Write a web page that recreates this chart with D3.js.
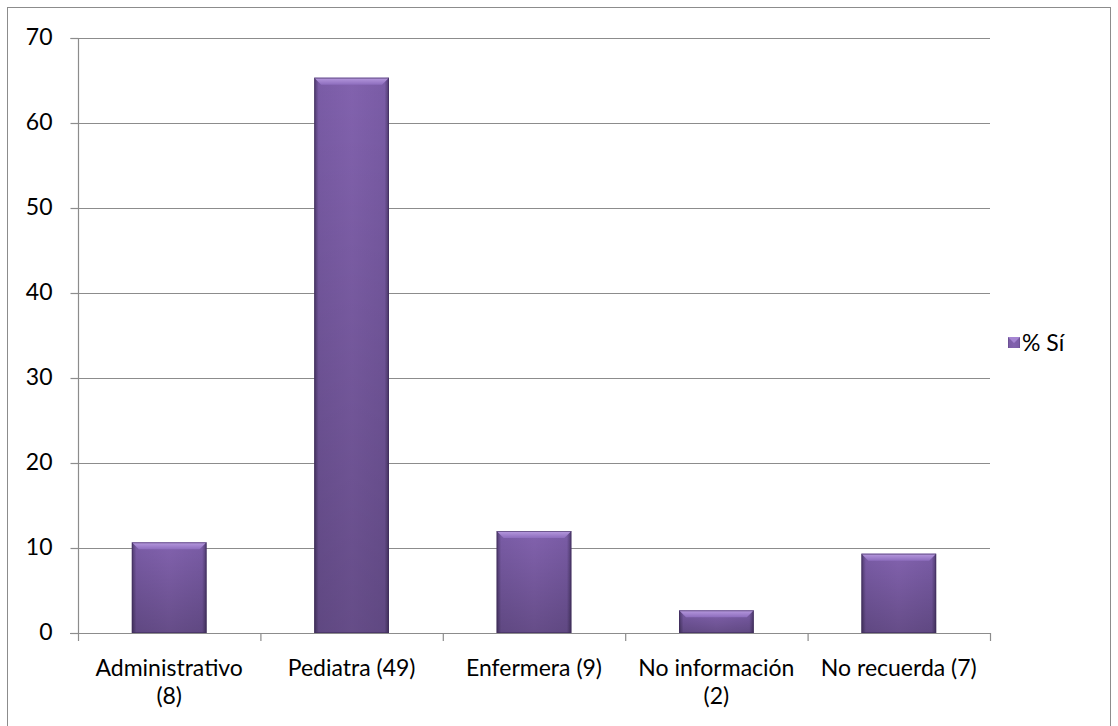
<!DOCTYPE html>
<html><head><meta charset="utf-8">
<script src="https://cdn.jsdelivr.net/npm/d3@7"></script>
<style>body{margin:0;background:#fff}svg{display:block}text{font-family:Lato,"Open Sans",sans-serif;fill:#000}</style>
</head><body>
<script>
const categories = [["Administrativo","(8)"],["Pediatra (49)"],["Enfermera (9)"],["No información","(2)"],["No recuerda (7)"]];
const values = [10.67, 65.33, 12, 2.67, 9.33];
const yTicks = [0,10,20,30,40,50,60,70];
const seriesName = "% Sí";

const W=1118,H=726,FS="23px";
const svg=d3.select("body").append("svg").attr("width",W).attr("height",H);
const defs=svg.append("defs");
const gH=defs.append("linearGradient").attr("id","gh").attr("x1","0").attr("x2","1").attr("y1","0").attr("y2","0");
[[0,"#4e3a6e"],[0.06,"#7a5ca6"],[0.5,"#8262ae"],[0.94,"#7a5ca6"],[1,"#4e3a6e"]].forEach(s=>gH.append("stop").attr("offset",s[0]).attr("stop-color",s[1]));
const gV=defs.append("linearGradient").attr("id","gv").attr("x1","0").attr("x2","0").attr("y1","0").attr("y2","1");
[[0,"#000",0],[1,"#000",0.22]].forEach(s=>gV.append("stop").attr("offset",s[0]).attr("stop-color",s[1]).attr("stop-opacity",s[2]));
const gT=defs.append("linearGradient").attr("id","gt").attr("x1","0").attr("x2","0").attr("y1","0").attr("y2","1");
[[0,"#b89be0"],[1,"#8d6dbd"]].forEach(s=>gT.append("stop").attr("offset",s[0]).attr("stop-color",s[1]));

svg.append("rect").attr("x",7.5).attr("y",7.5).attr("width",1103).attr("height",730).attr("fill","none").attr("stroke","#8c8c8c").attr("stroke-width",1);

const x0=78,x1=990,yTop=38,yBot=633;
const x=d3.scaleBand().domain(d3.range(categories.length)).range([x0,x1]).paddingInner(0.59).paddingOuter(0.295);
const y=d3.scaleLinear().domain([0,70]).range([yBot,yTop]);

svg.append("g").selectAll("line").data(yTicks.filter(t=>t>0)).join("line")
 .attr("x1",x0).attr("x2",x1).attr("y1",d=>y(d)+0.5).attr("y2",d=>y(d)+0.5).attr("stroke","#8c8c8c").attr("stroke-width",1.2);

const ya=svg.append("g").attr("transform",`translate(${x0+0.5},0)`).call(d3.axisLeft(y).tickValues(yTicks).tickSize(8).tickPadding(18).tickFormat(d3.format("d")));
ya.select(".domain").attr("stroke","#8c8c8c").attr("stroke-width",1.2).attr("d",`M-8,${yTop+0.5}H0V${yBot+0.5}`);
ya.selectAll(".tick line").attr("stroke","#8c8c8c").attr("stroke-width",1.2);
ya.selectAll(".tick text").style("font-size",FS).attr("fill","#000").attr("dy","0.3em");

const bars=svg.append("g").selectAll("g").data(values).join("g");
bars.append("rect").attr("x",(d,i)=>x(i)).attr("y",d=>y(d)).attr("width",x.bandwidth()).attr("height",d=>yBot-y(d)).attr("fill","url(#gh)");
bars.append("rect").attr("x",(d,i)=>x(i)).attr("y",d=>y(d)).attr("width",x.bandwidth()).attr("height",d=>yBot-y(d)).attr("fill","url(#gv)");
bars.append("path").attr("d",(d,i)=>{const a=x(i),b=a+x.bandwidth(),t=y(d),bv=Math.min(7,(yBot-t)/2);return `M${a},${t}H${b}L${b-bv},${t+bv}H${a+bv}Z`;}).attr("fill","url(#gt)");
bars.append("rect").attr("x",(d,i)=>x(i)+0.5).attr("y",d=>y(d)+0.5).attr("width",x.bandwidth()-1).attr("height",d=>yBot-y(d)-1).attr("fill","none").attr("stroke","#3f2d5c").attr("stroke-opacity",0.6);

const step=(x1-x0)/categories.length;
const xa=svg.append("g");
xa.append("line").attr("x1",x0-8).attr("x2",x1).attr("y1",yBot+0.5).attr("y2",yBot+0.5).attr("stroke","#8c8c8c").attr("stroke-width",1.2);
xa.selectAll(".tk").data(d3.range(categories.length+1)).join("line").attr("class","tk")
 .attr("x1",i=>x0+i*step+0.5).attr("x2",i=>x0+i*step+0.5).attr("y1",yBot).attr("y2",yBot+8).attr("stroke","#8c8c8c").attr("stroke-width",1.2);
const labData=[];
categories.forEach((c,i)=>c.forEach((t,j)=>labData.push({i,j,t})));
svg.append("g").selectAll("text").data(labData).join("text")
 .attr("x",d=>x(d.i)+x.bandwidth()/2).attr("y",d=>676+d.j*28).attr("text-anchor","middle").style("font-size",FS).text(d=>d.t);

const lg=svg.append("g").attr("transform","translate(1008,337)");
lg.append("rect").attr("width",12).attr("height",11).attr("fill","url(#gh)");
lg.append("path").attr("d","M0,0H12L6,6Z").attr("fill","#a585d2");
lg.append("text").attr("x",14).attr("y",14).style("font-size",FS).text(seriesName);
</script>
</body></html>
